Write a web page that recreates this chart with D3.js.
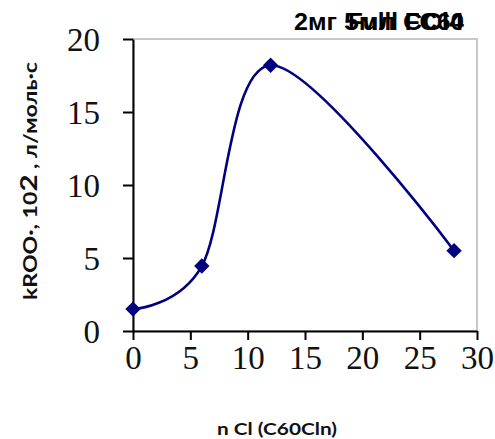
<!DOCTYPE html>
<html>
<head>
<meta charset="utf-8">
<script src="https://cdn.jsdelivr.net/npm/d3@7"></script>
<style>
  body { margin: 0; background: #fff; }
  svg { display: block; }
</style>
</head>
<body>
<script>
var w = 495;
var h = 439;

// data
var nCl = [0, 6, 12, 28];
var kRoo = [1.5, 4.45, 18.2, 5.5];
var xTicks = [0, 5, 10, 15, 20, 25, 30];
var yTicks = [0, 5, 10, 15, 20];
var titleParts = ["2мг", "5мл CCl4", "Fulll FC60"];
var xLabel = "n Cl (C60Cln)";

var padL = 133, padT = 39, padR = 477, padB = 331;

var x = d3.scaleLinear().domain([0, 30]).range([padL, padR]);
var y = d3.scaleLinear().domain([0, 20]).range([padB, padT]);

var svg = d3.select("body").append("svg")
  .attr("width", w)
  .attr("height", h);

// plot area frame (light grey)
svg.append("rect")
  .attr("x", padL)
  .attr("y", padT)
  .attr("width", padR - padL)
  .attr("height", padB - padT)
  .attr("fill", "none")
  .attr("stroke", "#c8c8c8")
  .attr("stroke-width", 2);

var xAxis = d3.axisBottom(x).tickValues(xTicks).tickSize(9).tickPadding(6).tickSizeOuter(0);
var yAxis = d3.axisLeft(y).tickValues(yTicks).tickSize(10).tickPadding(23).tickSizeOuter(0);

var gx = svg.append("g")
  .attr("transform", "translate(0," + padB + ")")
  .call(xAxis);
var gy = svg.append("g")
  .attr("transform", "translate(" + padL + ",0)")
  .call(yAxis);

[gx, gy].forEach(function(g) {
  g.select(".domain").attr("stroke", "#000").attr("stroke-width", 2);
  g.selectAll(".tick line").attr("stroke", "#000").attr("stroke-width", 2);
  g.selectAll(".tick text")
    .attr("fill", "#111")
    .style("font-family", "'Liberation Serif', 'Times New Roman', serif")
    .style("font-size", "33px");
});
gx.selectAll(".tick text").attr("dy", "0.71em");
gy.selectAll(".tick text").attr("dy", "0.34em");

// smoothed line
var line = d3.line()
  .x(function(d) { return x(d[0]); })
  .y(function(d) { return y(d[1]); })
  .curve(d3.curveCardinal.tension(0));

var pts = nCl.map(function(v, i) { return [v, kRoo[i]]; });

svg.append("path")
  .datum(pts)
  .attr("d", line)
  .attr("fill", "none")
  .attr("stroke", "#000080")
  .attr("stroke-width", 2.6);

svg.selectAll("path.marker")
  .data(pts).enter()
  .append("path")
  .attr("class", "marker")
  .attr("d", d3.symbol().type(d3.symbolDiamond2).size(150))
  .attr("transform", function(d) { return "translate(" + x(d[0]) + "," + y(d[1]) + ")"; })
  .attr("fill", "#000080");

// title (overlapping strings as in the original)
var tfont = "'Liberation Sans', Arial, sans-serif";
svg.append("text")
  .attr("x", 294).attr("y", 30)
  .attr("textLength", 43).attr("lengthAdjust", "spacingAndGlyphs")
  .style("font-family", tfont).style("font-size", "24px").style("font-weight", "bold")
  .text(titleParts[0]);
svg.append("text")
  .attr("x", 344).attr("y", 30)
  .attr("textLength", 120).attr("lengthAdjust", "spacingAndGlyphs")
  .style("font-family", tfont).style("font-size", "24px").style("font-weight", "bold")
  .text(titleParts[1]);
svg.append("text")
  .attr("x", 348).attr("y", 30)
  .attr("textLength", 116).attr("lengthAdjust", "spacingAndGlyphs")
  .style("font-family", tfont).style("font-size", "24px").style("font-weight", "bold")
  .text(titleParts[2]);

// axis titles
var lfont = "Lato, 'Open Sans', sans-serif";
svg.append("text")
  .attr("x", 277).attr("y", 435)
  .attr("text-anchor", "middle")
  .attr("textLength", 120).attr("lengthAdjust", "spacingAndGlyphs")
  .style("font-family", lfont).style("font-size", "17px").style("font-weight", "bold")
  .attr("fill", "#111")
  .text(xLabel);

var yl = svg.append("text")
  .attr("transform", "translate(37,181) rotate(-90)")
  .attr("text-anchor", "middle")
  .attr("textLength", 238).attr("lengthAdjust", "spacingAndGlyphs")
  .style("font-family", lfont).style("font-size", "18px").style("font-weight", "bold")
  .attr("fill", "#111");
yl.append("tspan").text("kROO·, 10");
yl.append("tspan").style("font-size", "23px").text("2");
yl.append("tspan").text(" , л/моль·с");
</script>
</body>
</html>
